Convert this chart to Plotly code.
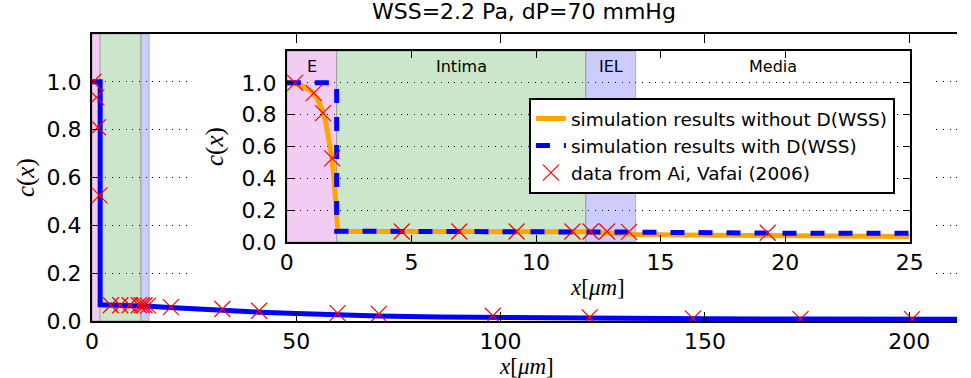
import plotly.graph_objects as go

# ---------------- data ----------------
# simulation without D(WSS) (orange, inset only)
x_sim_wo = [0, 0.25, 0.5, 0.75, 1.0, 1.2, 1.4, 1.55, 1.7, 1.8, 1.88, 1.94, 1.99, 2.05,
            5, 9, 12, 13, 14, 17, 20, 25]
c_sim_wo = [1.0, 0.997, 0.988, 0.97, 0.945, 0.905, 0.84, 0.76, 0.64, 0.54, 0.42, 0.28, 0.13, 0.066,
            0.066, 0.066, 0.064, 0.055, 0.047, 0.042, 0.039, 0.035]

# simulation with D(WSS) (blue)
x_sim_w = [0, 2, 2, 12, 14, 19, 25, 32, 41, 50, 60, 70, 85, 100, 125, 150, 175, 200, 212]
c_sim_w = [1.0, 1.0, 0.068, 0.066, 0.062, 0.056, 0.05, 0.044, 0.037, 0.031, 0.025, 0.021,
           0.017, 0.014, 0.011, 0.009, 0.008, 0.007, 0.007]

# data from Ai, Vafai (2006)
x_data = [0.33, 1.08, 1.45, 1.82, 4.61, 6.92, 9.22, 11.46, 12.19, 12.85, 13.73, 19.3,
          31.9, 40.9, 60.1, 70.2, 98.1, 121.8, 147.1, 173.4, 200.7]
c_data = [1.0, 0.935, 0.81, 0.525, 0.066, 0.066, 0.066, 0.066, 0.066, 0.066, 0.064, 0.058,
          0.05, 0.043, 0.033, 0.03, 0.022, 0.015, 0.01, 0.008, 0.008]

# layers of the artery wall
region_names = ["E", "Intima", "IEL", "Media"]
region_start = [0, 2, 12, 14]
region_end = [2, 12, 14, 25]
region_label_x = [1, 7, 13, 19.5]
region_colors = ["rgb(242,204,242)", "rgb(204,230,204)", "rgb(204,204,255)", None]

main_xticks = [0, 50, 100, 150, 200]
inset_xticks = [0, 5, 10, 15, 20, 25]
y_ticks = [0.0, 0.2, 0.4, 0.6, 0.8, 1.0]
y_ticktext = ["0.0", "0.2", "0.4", "0.6", "0.8", "1.0"]

legend_names = ["simulation results without D(WSS)",
                "simulation results with D(WSS)",
                "data from Ai, Vafai (2006)"]
title_text = "WSS=2.2 Pa, dP=70 mmHg"

# ---------------- layout helpers ----------------
W, H = 971, 378
ML, MR, MT, MB = 92, 0, 34, 57
PW = W - ML - MR
PH = H - MT - MB


def fx(px):
    return (px - ML) / PW


def fy(py):
    return (H - MB - py) / PH


SANS = "DejaVu Sans"
SERIF = "Liberation Serif"
ORANGE = "#ffa500"
BLUE = "#0000ff"
RED = "#ff0000"

fig = go.Figure()

# ---- main plot ----
fig.add_trace(go.Scatter(x=x_sim_w, y=c_sim_w, mode="lines",
                         line=dict(color=BLUE, width=5), showlegend=False,
                         xaxis="x", yaxis="y"))
fig.add_trace(go.Scatter(x=x_data, y=c_data, mode="markers",
                         marker=dict(symbol="x-thin", size=16, line=dict(color=RED, width=1.2)),
                         showlegend=False, xaxis="x", yaxis="y"))

# ---- cover (white box behind inset) ----
fig.add_trace(go.Scatter(x=[None], y=[None], mode="lines", showlegend=False,
                         hoverinfo="skip", xaxis="x2", yaxis="y2"))

# ---- inset ----
fig.add_trace(go.Scatter(x=x_sim_wo, y=c_sim_wo, mode="lines", name=legend_names[0],
                         line=dict(color=ORANGE, width=5),
                         xaxis="x3", yaxis="y3"))
fig.add_trace(go.Scatter(x=x_sim_w, y=c_sim_w, mode="lines", name=legend_names[1],
                         line=dict(color=BLUE, width=5, dash="14px,14px"),
                         xaxis="x3", yaxis="y3"))
fig.add_trace(go.Scatter(x=x_data, y=c_data, mode="markers", name=legend_names[2],
                         marker=dict(symbol="x-thin", size=16, line=dict(color=RED, width=1.2)),
                         xaxis="x3", yaxis="y3"))

shapes = []
for xs, xe, col in zip(region_start, region_end, region_colors):
    if col is None:
        continue
    # main plot bands
    shapes.append(dict(type="rect", xref="x", yref="y", x0=xs, x1=xe, y0=0, y1=1.2,
                       fillcolor=col, line=dict(color="rgba(0,0,0,0.22)", width=1),
                       layer="below"))
    # inset bands
    shapes.append(dict(type="rect", xref="x3", yref="y3", x0=xs, x1=xe, y0=0, y1=1.2,
                       fillcolor=col, line=dict(color="rgba(0,0,0,0.22)", width=1),
                       layer="below"))

annotations = []
for name, xl in zip(region_names, region_label_x):
    annotations.append(dict(text=name, x=xl, y=1.1, xref="x3", yref="y3", showarrow=False,
                            font=dict(family=SANS, size=16, color="black")))

annotations += [
    dict(text=title_text, x=fx(531), y=fy(12), xref="paper", yref="paper", showarrow=False,
         xanchor="center", yanchor="middle", font=dict(family=SANS, size=22, color="black")),
    dict(text="<i>x</i>[<i>μm</i>]", x=fx(534), y=fy(366), xref="paper", yref="paper",
         showarrow=False, xanchor="center", yanchor="middle",
         font=dict(family=SERIF, size=23, color="black")),
    dict(text="<i>x</i>[<i>μm</i>]", x=fx(606), y=fy(287), xref="paper", yref="paper",
         showarrow=False, xanchor="center", yanchor="middle",
         font=dict(family=SERIF, size=23, color="black")),
    dict(text="<i>c</i>(<i>x</i>)", x=fx(25), y=fy(178), xref="paper", yref="paper",
         showarrow=False, xanchor="center", yanchor="middle", textangle=-90,
         font=dict(family=SERIF, size=25, color="black")),
    dict(text="<i>c</i>(<i>x</i>)", x=fx(217), y=fy(147), xref="paper", yref="paper",
         showarrow=False, xanchor="center", yanchor="middle", textangle=-90,
         font=dict(family=SERIF, size=25, color="black")),
]

tickfont = dict(family=SANS, size=22, color="black")
grid = dict(showgrid=True, gridcolor="black", gridwidth=1, griddash="1px,5.7px")

fig.update_layout(
    width=W, height=H,
    margin=dict(l=ML, r=MR, t=MT, b=MB),
    paper_bgcolor="white", plot_bgcolor="white",
    shapes=shapes, annotations=annotations,
    showlegend=True,
    legend=dict(x=fx(536), y=fy(98), xanchor="left", yanchor="top",
                bgcolor="white", bordercolor="black", borderwidth=2,
                font=dict(family=SANS, size=18.5, color="black"),
                tracegroupgap=0, itemwidth=30),
    xaxis=dict(domain=[0, 1], range=[0, 211.7], tickvals=main_xticks,
               ticks="inside", ticklen=9, tickwidth=1, tickcolor="black",
               showline=True, linewidth=2, linecolor="black", mirror="ticks",
               showgrid=False, zeroline=False, tickfont=tickfont, anchor="y"),
    yaxis=dict(domain=[0, 1], range=[0, 1.2], tickvals=y_ticks, ticktext=y_ticktext,
               ticks="inside", ticklen=9, tickwidth=1, tickcolor="black",
               showline=True, linewidth=2, linecolor="black", mirror=False,
               zeroline=False, tickfont=tickfont, anchor="x", ticklabelstandoff=4, **grid),
    xaxis2=dict(domain=[fx(192), fx(948)], range=[0, 1], visible=False, anchor="y2",
                showgrid=False, zeroline=False),
    yaxis2=dict(domain=[fy(298), fy(46)], range=[0, 1], visible=False, anchor="x2",
                showgrid=False, zeroline=False),
    xaxis3=dict(domain=[fx(290), fx(923)], range=[0, 25], tickvals=inset_xticks,
                ticks="inside", ticklen=7, tickwidth=1, tickcolor="black",
                showline=True, linewidth=2, linecolor="black", mirror="ticks",
                showgrid=False, zeroline=False, tickfont=tickfont, anchor="y3"),
    yaxis3=dict(domain=[fy(242), fy(51)], range=[0, 1.2], tickvals=y_ticks, ticktext=y_ticktext,
                ticks="inside", ticklen=7, tickwidth=1, tickcolor="black",
                showline=True, linewidth=2, linecolor="black", mirror="ticks",
                zeroline=False, tickfont=tickfont, anchor="x3", ticklabelstandoff=4, **grid),
)

fig.write_html("out.html")
